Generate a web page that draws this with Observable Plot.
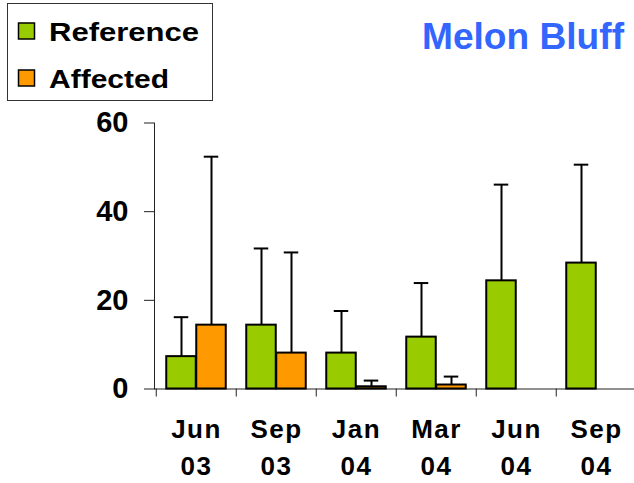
<!DOCTYPE html>
<html>
<head>
<meta charset="utf-8">
<script src="https://cdn.jsdelivr.net/npm/d3@7"></script>
<script src="https://cdn.jsdelivr.net/npm/@observablehq/plot@0.6"></script>
<style>
html, body { margin: 0; padding: 0; background: #fff; }
#wrap { position: relative; width: 634px; height: 483px; overflow: hidden; font-family: "Liberation Sans", Arial, sans-serif; }
#wrap svg.overlay { position: absolute; left: 0; top: 0; }
#chart [aria-label="x-axis tick label"] text { letter-spacing: 1.5px; }
</style>
</head>
<body>
<div id="wrap"><div id="chart"></div></div>
<script>
// ---- data ----
const dates = ["Jun 03", "Sep 03", "Jan 04", "Mar 04", "Jun 04", "Sep 04"];
const reference = [7.3, 14.4, 8.1, 11.7, 24.4, 28.4];
const referenceUpper = [16.2, 31.7, 17.6, 23.9, 46.1, 50.6];
const affected = [14.4, 8.1, 0.5, 0.9, 0, 0];
const affectedUpper = [52.4, 30.8, 1.9, 2.8, 0, 0];
const yTicks = [0, 20, 40, 60];
const seriesNames = ["Reference", "Affected"];
const seriesColors = ["#99CC00", "#FF9900"];
const titleText = "Melon Bluff";

const refRows = dates.map((d, i) => ({date: d, value: reference[i], hi: referenceUpper[i]}));
const affRows = dates.map((d, i) => ({date: d, value: affected[i], hi: affectedUpper[i]}));

const band = (637 - 154) / dates.length;
const barW = 30, pad = (band - 2 * barW) / 2, capW = 15;
const capIn = pad + barW / 2 - capW / 2;

const chart = Plot.plot({
  width: 634,
  height: 483,
  marginLeft: 154,
  marginRight: 0,
  marginTop: 122.5,
  marginBottom: 94.5,
  style: {fontFamily: "Liberation Sans, Arial, sans-serif", background: "transparent", color: "#000"},
  x: {domain: dates, range: [154, 637], padding: 0},
  y: {domain: [0, 60]},
  marks: [
    Plot.ruleY([0], {stroke: "#222", strokeWidth: 1}),
    Plot.frame({anchor: "left", stroke: "#222", strokeWidth: 1}),
    Plot.ruleX(dates, {x: d => d, dx: -band / 2, y1: 0, y2: 0, insetBottom: -8, stroke: "#222", strokeWidth: 1}),
    Plot.axisY({ticks: yTicks, tickSize: 10, tickPadding: 16, fontSize: 29, fontWeight: "bold", label: null, stroke: "#222"}),
    Plot.axisX({tickSize: 0, tickPadding: 23, fontSize: 26, fontWeight: "bold", lineHeight: 1.42, label: null,
      tickFormat: d => d.replace(" ", "\n")}),
    // error bars
    Plot.ruleX(refRows.filter(r => r.hi > r.value), {x: "date", y1: "value", y2: "hi", dx: -(barW / 2), stroke: "#000", strokeWidth: 2}),
    Plot.tickY(refRows.filter(r => r.hi > r.value), {x: "date", y: "hi", insetLeft: capIn, insetRight: band - capIn - capW, stroke: "#000", strokeWidth: 2}),
    Plot.ruleX(affRows.filter(r => r.hi > r.value), {x: "date", y1: "value", y2: "hi", dx: barW / 2, stroke: "#000", strokeWidth: 2}),
    Plot.tickY(affRows.filter(r => r.hi > r.value), {x: "date", y: "hi", insetLeft: band - capIn - capW, insetRight: capIn, stroke: "#000", strokeWidth: 2}),
    // bars
    Plot.barY(refRows, {x: "date", y: "value", fill: seriesColors[0], stroke: d => d.value > 0 ? "#000" : "#bbb", strokeWidth: 2,
      insetLeft: pad, insetRight: band - pad - barW}),
    Plot.barY(affRows, {x: "date", y: "value", fill: seriesColors[1], stroke: d => d.value > 0 ? "#000" : "#bbb", strokeWidth: d => d.value > 0 ? 2 : 1,
      insetLeft: pad + barW, insetRight: pad})
  ]
});
document.getElementById("chart").appendChild(chart);

// ---- title and legend overlay ----
const ov = d3.select("#wrap").append("svg").attr("class", "overlay")
  .attr("width", 634).attr("height", 483)
  .style("font-family", "Liberation Sans, Arial, sans-serif");

ov.append("text").attr("x", 624).attr("y", 49).attr("text-anchor", "end")
  .attr("font-size", 37).attr("font-weight", "bold").attr("fill", "#3366FF")
  .attr("textLength", 202).attr("lengthAdjust", "spacingAndGlyphs")
  .text(titleText);

ov.append("rect").attr("x", 7.5).attr("y", 3.5).attr("width", 205).attr("height", 97)
  .attr("fill", "#fff").attr("stroke", "#333").attr("stroke-width", 1);

const legLen = [150, 120];
seriesNames.forEach((name, i) => {
  const base = 41 + i * 47;
  ov.append("rect").attr("x", 18.5).attr("y", base - 18).attr("width", 16).attr("height", 16)
    .attr("fill", seriesColors[i]).attr("stroke", "#000").attr("stroke-width", 1.5);
  ov.append("text").attr("x", 49).attr("y", base)
    .attr("font-size", 26).attr("font-weight", "bold").attr("fill", "#000")
    .attr("textLength", legLen[i]).attr("lengthAdjust", "spacingAndGlyphs")
    .text(name);
});
</script>
</body>
</html>
